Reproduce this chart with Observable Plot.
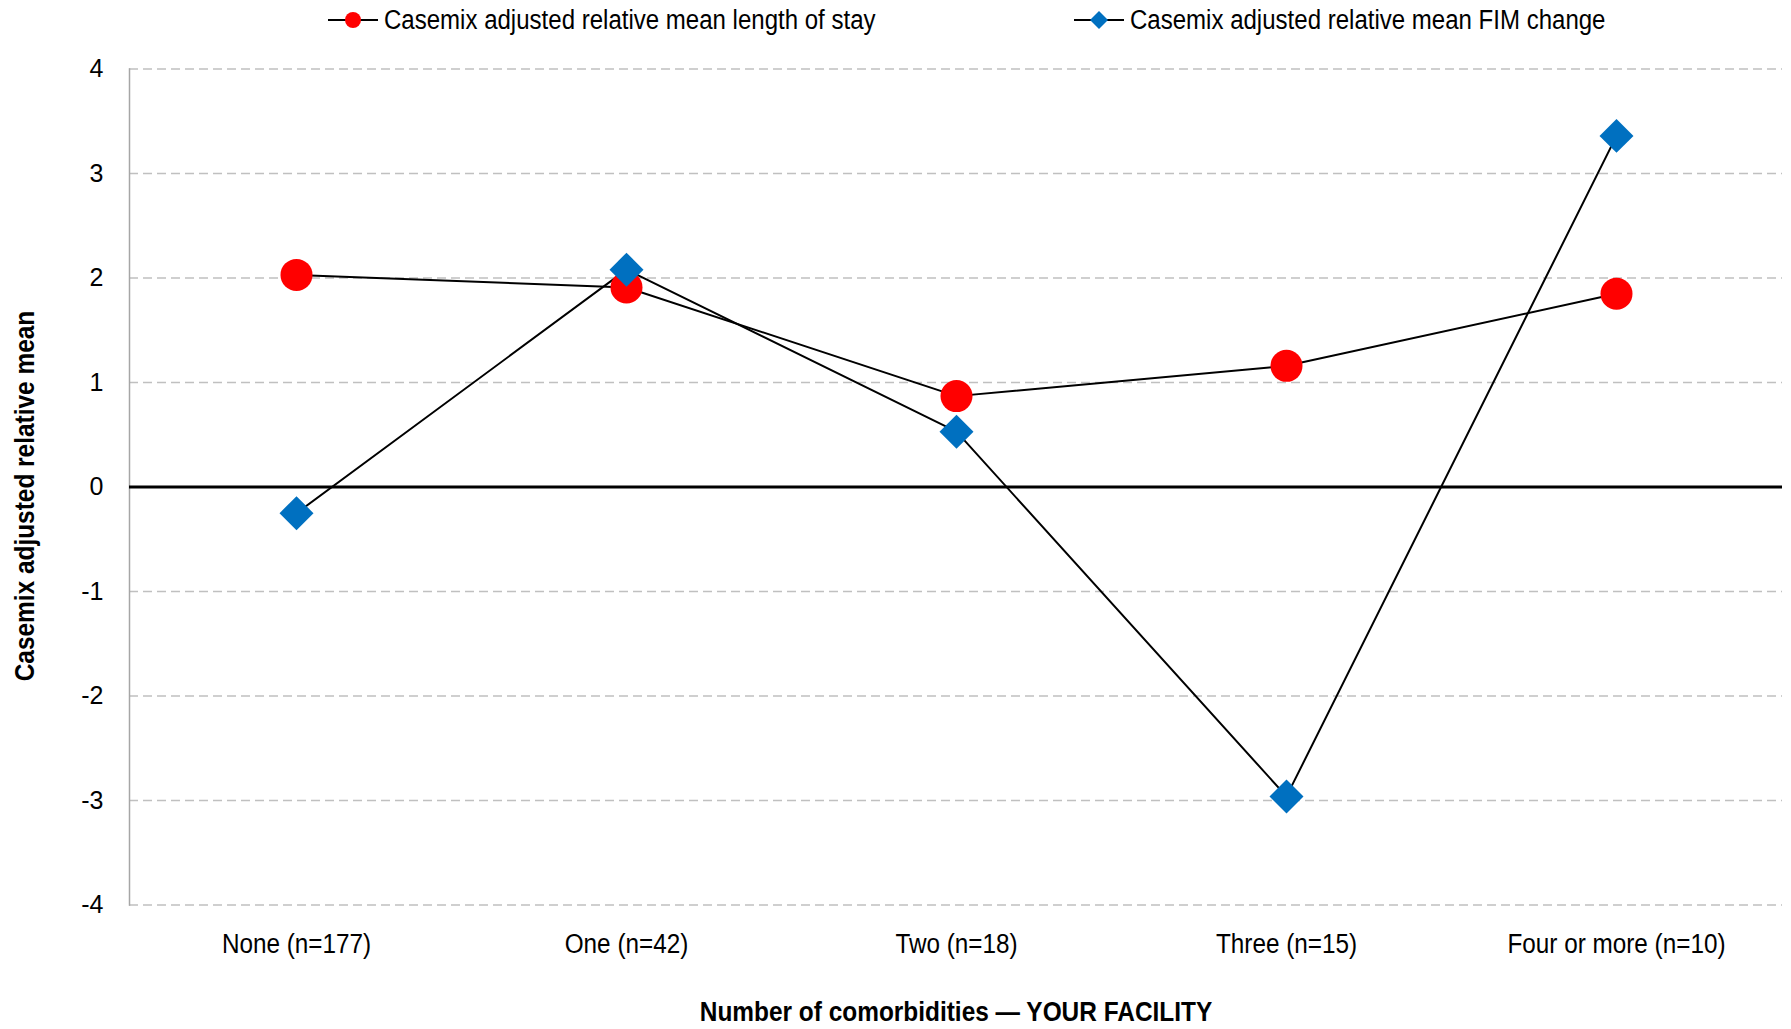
<!DOCTYPE html>
<html><head><meta charset="utf-8">
<script src="https://cdn.jsdelivr.net/npm/d3@7"></script>
<script src="https://cdn.jsdelivr.net/npm/@observablehq/plot@0.6"></script>
<style>
body{margin:0;background:#fff;overflow:hidden;}
#legend{position:relative;width:1791px;height:40px;font-family:"Liberation Sans",Arial,sans-serif;font-size:27px;color:#000;}
.item{position:absolute;top:0;height:40px;display:flex;align-items:center;white-space:nowrap;}
.item svg{margin-right:6px;flex:none;}
.item span{display:inline-block;transform:scaleX(0.89);transform-origin:0 50%;}
</style></head><body>
<div id="legend"></div>
<div id="chart"></div>
<script>
const categories = ["None (n=177)", "One (n=42)", "Two (n=18)", "Three (n=15)", "Four or more (n=10)"];
const losValues = [2.03, 1.91, 0.87, 1.16, 1.85];
const fimValues = [-0.25, 2.08, 0.53, -2.96, 3.36];
const yTicks = [-4, -3, -2, -1, 0, 1, 2, 3, 4];
const seriesNames = ["Casemix adjusted relative mean length of stay", "Casemix adjusted relative mean FIM change"];
const seriesColors = ["#ff0000", "#0070c0"];
const xTitle = "Number of comorbidities \u2014 YOUR FACILITY";
const yTitle = "Casemix adjusted relative mean";

// legend
const legend = d3.select("#legend");
const legendLeft = [328, 1074];
seriesNames.forEach((name, i) => {
  const item = legend.append("div").attr("class", "item").style("left", legendLeft[i] + "px");
  const svg = item.append("svg").attr("width", 50).attr("height", 20);
  svg.append("line").attr("x1", 0).attr("x2", 50).attr("y1", 10).attr("y2", 10).attr("stroke", "#000").attr("stroke-width", 2);
  if (i === 0) svg.append("circle").attr("cx", 25).attr("cy", 10).attr("r", 8).attr("fill", seriesColors[0]);
  else svg.append("path").attr("d", "M25,1L34,10L25,19L16,10Z").attr("fill", seriesColors[1]);
  item.append("span").text(name);
});

const los = categories.map((c, i) => ({cat: c, v: losValues[i]}));
const fim = categories.map((c, i) => ({cat: c, v: fimValues[i]}));

const chart = Plot.plot({
  width: 1791,
  height: 989,
  marginTop: 28.5,
  marginBottom: 124.4,
  marginLeft: 129,
  marginRight: 9,
  x: {type: "point", domain: categories, padding: 0.5, axis: null},
  y: {domain: [-4, 4], axis: null},
  style: {background: "#fff", fontFamily: "Liberation Sans, Arial, sans-serif", color: "#000"},
  marks: [
    Plot.gridY(yTicks.filter(d => d !== 0), {stroke: "#c0c0c0", strokeOpacity: 1, strokeWidth: 1.5, strokeDasharray: "9,5"}),
    Plot.frame({anchor: "left", stroke: "#a6a6a6", strokeWidth: 1.5}),
    Plot.ruleY([0], {stroke: "#000", strokeWidth: 3}),
    Plot.axisY({ticks: yTicks, tickSize: 0, tickPadding: 26, tickFormat: d => String(d), fontSize: 25, label: null}),
    Plot.axisX({tickSize: 0, tickPadding: 29, fontSize: 27, label: null}),
    Plot.lineY(los, {x: "cat", y: "v", stroke: "#000", strokeWidth: 2}),
    Plot.lineY(fim, {x: "cat", y: "v", stroke: "#000", strokeWidth: 2}),
    Plot.dot(los, {x: "cat", y: "v", r: 16, fill: seriesColors[0], symbol: "circle"}),
    Plot.dot(fim, {x: "cat", y: "v", r: 15.3, fill: seriesColors[1], symbol: "diamond2"}),
    Plot.text([yTitle], {frameAnchor: "left", textAnchor: "middle", dx: -104, dy: 9, rotate: -90, fontSize: 27, fontWeight: "bold"}),
    Plot.text([xTitle], {frameAnchor: "bottom", textAnchor: "middle", dy: 116, fontSize: 27, fontWeight: "bold"})
  ]
});
// condense text horizontally (along its own baseline) to mimic the narrow typeface
function condenseEl(el, k) {
  const t = el.getAttribute("transform") || "";
  const x = +(el.getAttribute("x") || 0);
  el.setAttribute("transform", t + ` translate(${x},0) scale(${k},1) translate(${-x},0)`);
}
d3.select(chart).selectAll('g[aria-label="x-axis tick label"] text').each(function() { condenseEl(this, 0.9); });
d3.select(chart).selectAll("text").each(function() {
  if (this.textContent === yTitle) condenseEl(this, 0.905);
  if (this.textContent === xTitle) condenseEl(this, 0.905);
});
document.getElementById("chart").appendChild(chart);
</script>
</body></html>
